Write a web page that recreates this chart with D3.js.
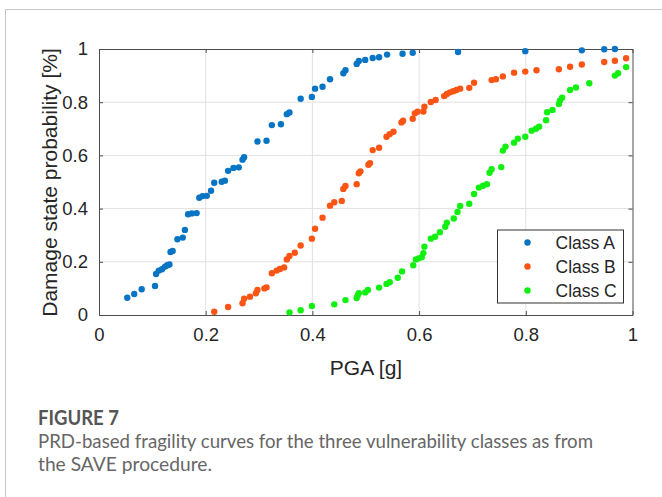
<!DOCTYPE html>
<html lang="en">
<head>
<meta charset="utf-8" />
<script src="https://d3js.org/d3.v7.min.js"></script>
<style>
  body { margin: 0; background: #fff; }
  #frame { position: absolute; left: 5px; top: 9px; width: 700px; height: 520px;
           border-left: 1px solid #c8c8c8; border-top: 1px solid #c8c8c8; }
</style>
</head>
<body>
<div id="frame"></div>
<svg id="chart" width="662" height="497" style="position:absolute;left:0;top:0"></svg>
<script>
  // PGA [g] and damage state probability
  var pgaA = [0.053, 0.066, 0.080, 0.105, 0.107, 0.112, 0.118, 0.124, 0.128, 0.132, 0.134, 0.138,
    0.147, 0.157, 0.161, 0.167, 0.174, 0.183, 0.188, 0.194, 0.202, 0.210, 0.216, 0.230, 0.236,
    0.242, 0.252, 0.262, 0.269, 0.272, 0.297, 0.314, 0.324, 0.341, 0.352, 0.357, 0.378, 0.399,
    0.405, 0.419, 0.433, 0.458, 0.462, 0.483, 0.487, 0.499, 0.513, 0.525, 0.540, 0.569, 0.588,
    0.673, 0.799, 0.905, 0.947, 0.967];
  var probA = [0.065, 0.079, 0.097, 0.109, 0.154, 0.167, 0.172, 0.182, 0.187, 0.190, 0.237, 0.241,
    0.285, 0.291, 0.320, 0.379, 0.382, 0.383, 0.441, 0.447, 0.448, 0.467, 0.497, 0.501, 0.505,
    0.542, 0.553, 0.555, 0.584, 0.593, 0.652, 0.655, 0.714, 0.717, 0.755, 0.761, 0.813, 0.820,
    0.851, 0.858, 0.886, 0.909, 0.920, 0.944, 0.955, 0.959, 0.966, 0.969, 0.979, 0.982, 0.986,
    0.989, 0.992, 0.995, 0.999, 1.000];

  var pgaB = [0.216, 0.242, 0.269, 0.272, 0.283, 0.294, 0.297, 0.310, 0.314, 0.324, 0.333, 0.339,
    0.347, 0.352, 0.357, 0.367, 0.378, 0.399, 0.405, 0.419, 0.433, 0.441, 0.455, 0.458, 0.462,
    0.483, 0.487, 0.490, 0.505, 0.508, 0.513, 0.525, 0.539, 0.545, 0.552, 0.567, 0.570, 0.588,
    0.592, 0.597, 0.608, 0.610, 0.622, 0.631, 0.647, 0.652, 0.658, 0.664, 0.670, 0.677, 0.694,
    0.703, 0.736, 0.744, 0.757, 0.778, 0.799, 0.820, 0.862, 0.883, 0.905, 0.947, 0.967, 0.988];
  var probB = [0.012, 0.030, 0.044, 0.061, 0.069, 0.082, 0.094, 0.100, 0.104, 0.157, 0.167, 0.173,
    0.179, 0.209, 0.222, 0.234, 0.261, 0.287, 0.324, 0.366, 0.411, 0.424, 0.429, 0.474, 0.485,
    0.492, 0.533, 0.540, 0.565, 0.571, 0.620, 0.629, 0.670, 0.680, 0.689, 0.724, 0.730, 0.738,
    0.758, 0.764, 0.765, 0.783, 0.801, 0.808, 0.823, 0.831, 0.837, 0.841, 0.846, 0.851, 0.854,
    0.873, 0.883, 0.886, 0.897, 0.911, 0.915, 0.920, 0.924, 0.933, 0.942, 0.951, 0.956, 0.965];

  var pgaC = [0.357, 0.378, 0.399, 0.441, 0.462, 0.483, 0.485, 0.487, 0.499, 0.504, 0.525, 0.539,
    0.545, 0.560, 0.568, 0.589, 0.594, 0.599, 0.605, 0.608, 0.610, 0.622, 0.630, 0.639, 0.649,
    0.652, 0.665, 0.672, 0.677, 0.694, 0.703, 0.712, 0.720, 0.727, 0.732, 0.736, 0.754, 0.757,
    0.762, 0.778, 0.785, 0.799, 0.811, 0.819, 0.825, 0.838, 0.840, 0.850, 0.862, 0.864, 0.868,
    0.883, 0.894, 0.919, 0.967, 0.973, 0.988];
  var probC = [0.010, 0.018, 0.034, 0.040, 0.056, 0.064, 0.074, 0.082, 0.085, 0.094, 0.103, 0.117,
    0.123, 0.140, 0.164, 0.187, 0.209, 0.213, 0.217, 0.232, 0.257, 0.287, 0.294, 0.311, 0.332,
    0.347, 0.363, 0.387, 0.410, 0.418, 0.455, 0.479, 0.486, 0.492, 0.535, 0.548, 0.556, 0.618,
    0.633, 0.648, 0.663, 0.670, 0.693, 0.700, 0.708, 0.732, 0.762, 0.771, 0.793, 0.806, 0.817,
    0.846, 0.855, 0.871, 0.900, 0.909, 0.932];

  var classNames = ["Class A", "Class B", "Class C"];
  var classColors = ["#0874C4", "#FA5514", "#12F012"];
  var ticks = [0, 0.2, 0.4, 0.6, 0.8, 1];
  var tickLabels = ["0", "0.2", "0.4", "0.6", "0.8", "1"];

  var series = [
    { name: classNames[0], x: pgaA, y: probA },
    { name: classNames[1], x: pgaB, y: probB },
    { name: classNames[2], x: pgaC, y: probC }
  ];

  var pl = 99, pr = 632.5, pt = 49, pb = 315;
  var x = d3.scaleLinear().domain([0, 1]).range([pl, pr]);
  var y = d3.scaleLinear().domain([0, 1]).range([pb, pt]);

  var svg = d3.select("#chart");
  var font = "'Liberation Sans', Arial, sans-serif";

  // grid
  var grid = svg.append("g").attr("stroke", "#e1e1e1").attr("stroke-width", 1);
  ticks.slice(1, -1).forEach(function (t) {
    grid.append("line").attr("x1", x(t)).attr("x2", x(t)).attr("y1", pt).attr("y2", pb);
    grid.append("line").attr("x1", pl).attr("x2", pr).attr("y1", y(t)).attr("y2", y(t));
  });

  // axes (inside ticks, box on)
  var fmt = function (d, i) { return tickLabels[i]; };
  var xAxis = svg.append("g").attr("transform", "translate(0," + pb + ")")
    .call(d3.axisBottom(x).tickValues(ticks).tickFormat(fmt).tickSizeInner(-4).tickSizeOuter(0).tickPadding(13));
  var yAxis = svg.append("g").attr("transform", "translate(" + pl + ",0)")
    .call(d3.axisLeft(y).tickValues(ticks).tickFormat(fmt).tickSizeInner(-4).tickSizeOuter(0).tickPadding(11));
  var xTop = svg.append("g").attr("transform", "translate(0," + pt + ")")
    .call(d3.axisTop(x).tickValues(ticks).tickFormat("").tickSizeInner(-4).tickSizeOuter(0));
  var yRight = svg.append("g").attr("transform", "translate(" + pr + ",0)")
    .call(d3.axisRight(y).tickValues(ticks).tickFormat("").tickSizeInner(-4).tickSizeOuter(0));

  [xAxis, yAxis, xTop, yRight].forEach(function (a) {
    a.selectAll("path, line").attr("stroke", "#4d4d4d");
    a.selectAll("text").attr("fill", "#262626").style("font-family", font).style("font-size", "18.5px");
  });

  // points
  series.forEach(function (s, k) {
    svg.append("g").selectAll("circle")
      .data(s.x.map(function (v, i) { return [v, s.y[i]]; }))
      .join("circle")
      .attr("cx", function (d) { return x(d[0]); })
      .attr("cy", function (d) { return y(d[1]); })
      .attr("r", 3.2)
      .attr("fill", classColors[k]);
  });

  // axis labels
  svg.append("text").attr("x", 366).attr("y", 375)
    .attr("text-anchor", "middle").attr("fill", "#262626")
    .style("font-family", font).style("font-size", "21px").text("PGA [g]");
  svg.append("text").attr("transform", "translate(56.5,182.5) rotate(-90)")
    .attr("text-anchor", "middle").attr("fill", "#262626")
    .style("font-family", font).style("font-size", "21px").text("Damage state probability [%]");

  // legend
  var lg = svg.append("g").attr("transform", "translate(497.5,230)");
  lg.append("rect").attr("width", 126).attr("height", 73)
    .attr("fill", "#fff").attr("stroke", "#333").attr("stroke-width", 1);
  series.forEach(function (s, k) {
    var row = lg.append("g").attr("transform", "translate(0," + (12.5 + k * 24) + ")");
    row.append("circle").attr("cx", 30).attr("cy", 0).attr("r", 3.2).attr("fill", classColors[k]);
    row.append("text").attr("x", 58).attr("y", 0).attr("dy", "0.36em")
      .attr("fill", "#262626").style("font-family", font).style("font-size", "17.5px").text(s.name);
  });

  // caption
  var cap = svg.append("g").style("font-family", "Lato, sans-serif");
  cap.append("text").attr("x", 38).attr("y", 425).attr("fill", "#555")
    .style("font-size", "20px").style("font-weight", 700)
    .attr("textLength", 81).attr("lengthAdjust", "spacingAndGlyphs").text("FIGURE 7");
  cap.append("text").attr("x", 38).attr("y", 447.5).attr("fill", "#666")
    .style("font-size", "19px").attr("textLength", 555).attr("lengthAdjust", "spacingAndGlyphs")
    .text("PRD-based fragility curves for the three vulnerability classes as from");
  cap.append("text").attr("x", 38).attr("y", 470.5).attr("fill", "#666")
    .style("font-size", "19px").attr("textLength", 174).attr("lengthAdjust", "spacingAndGlyphs")
    .text("the SAVE procedure.");
</script>
</body>
</html>
